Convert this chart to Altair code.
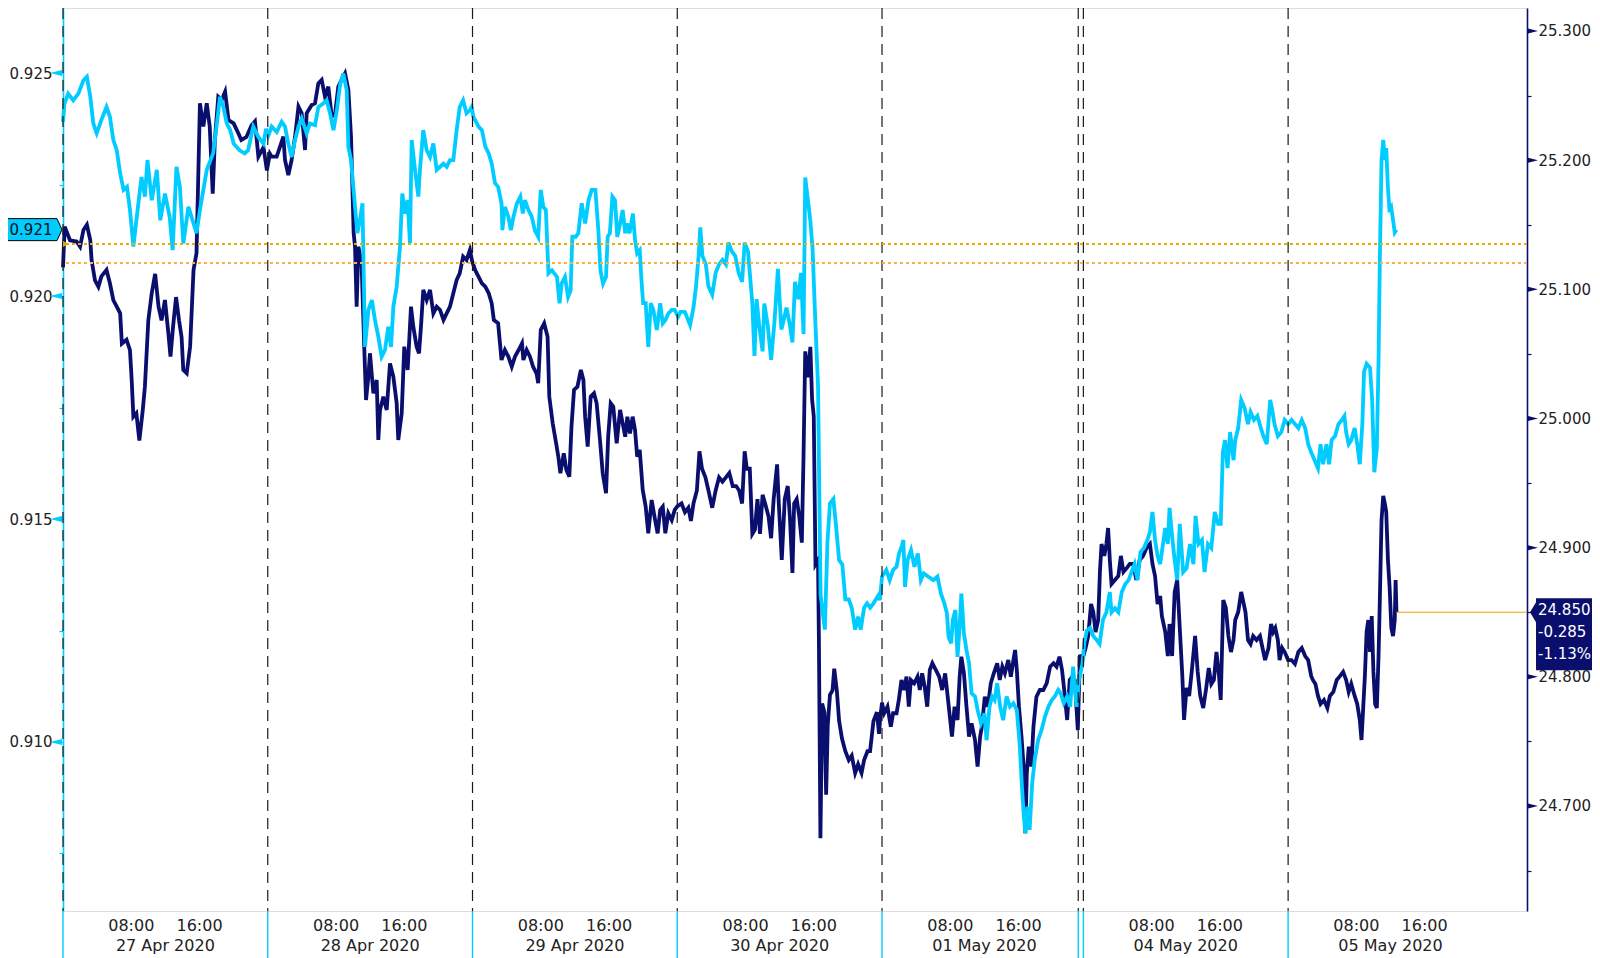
import altair as alt
import pandas as pd

# ---------------- data (hours on a trading clock from 27 Apr 2020 00:00; weekend compressed) ----------------
day_starts = [0, 24, 48, 72, 96, 119.6, 143.6]
day_labels = ["27 Apr 2020", "28 Apr 2020", "29 Apr 2020", "30 Apr 2020",
              "01 May 2020", "04 May 2020", "05 May 2020"]
session_breaks = [0, 24, 48, 72, 96, 119.0, 119.6, 143.6]
axis_end = 171.6

cyan_hours = [
    0.0, 0.15, 0.6, 1.2, 1.8, 2.4, 2.8, 3.2, 3.55, 3.95, 4.5, 5.1, 5.5, 5.9, 6.3, 6.7, 7.1, 7.5, 7.85, 8.25,
    8.6, 9.2, 9.6, 9.9, 10.4, 11.0, 11.4, 11.95, 12.5, 12.85, 13.3, 13.7, 14.1, 14.7, 15.3, 15.65, 16.05, 16.45,
    16.85, 17.6, 18.0, 18.4, 18.8, 19.2, 19.6, 20.0, 20.7, 21.3, 21.7, 22.3, 22.9, 23.5, 23.8, 24.07,
    24.46, 25.05, 25.63, 26.02, 26.41, 26.8, 27.2, 27.6, 27.98, 28.56, 28.95, 29.54, 29.93, 30.5, 30.9, 31.3,
    31.7, 32.1, 32.5, 32.86, 33.25, 33.45, 33.76, 34.03, 34.23, 34.5, 34.8, 35.1, 35.4, 35.8, 36.2, 36.57,
    36.96, 37.35, 37.74, 38.13, 38.45, 38.72, 39.11, 39.5, 39.77, 40.09, 40.4, 40.67, 40.87, 41.26, 41.65,
    41.84, 42.23, 42.63, 43.02, 43.41, 43.8, 44.2, 44.6, 44.97, 45.36, 45.75, 46.14, 46.5, 46.9, 47.3, 47.7,
    47.9, 48.1, 48.3, 48.7, 49.1, 49.5, 49.9, 50.25, 50.64, 51.0, 51.4, 51.5, 51.8, 52.2, 52.5, 52.8, 53.2,
    53.6, 53.9, 54.15, 54.55, 54.94, 55.3, 55.7, 56.0, 56.3, 56.6, 56.9, 57.3, 57.9, 58.2, 58.45, 58.84,
    59.2, 59.5, 59.7, 60.1, 60.4, 60.8, 61.2, 61.6, 61.97, 62.4, 62.75, 63.0, 63.3, 63.65, 63.84, 64.1, 64.4,
    64.7, 64.97, 65.3, 65.6, 65.9, 66.1, 66.4, 66.8, 67.05, 67.3, 67.6, 67.8, 68.0, 68.3, 68.6, 68.9, 69.2,
    69.6, 70.0, 70.3, 70.6, 70.95, 71.35, 71.7, 72.1, 72.4, 72.9, 73.5, 73.9, 74.2, 74.5, 74.7, 74.95, 75.35,
    75.65, 76.1, 76.5, 76.9, 77.3, 77.7, 78.0, 78.4, 78.8, 79.2, 79.6, 79.9, 80.3, 80.5, 80.8, 81.05, 81.3,
    81.6, 82.0, 82.2, 82.6, 83.0, 83.4, 83.8, 84.2, 84.45, 84.8, 85.2, 85.5, 85.8, 86.2, 86.5, 86.8, 87.0,
    87.3, 87.6, 87.85, 88.2, 88.5, 88.8, 89.05, 89.3, 89.6, 89.9, 90.3, 90.6, 90.97, 91.35, 91.7, 92.1,
    92.45, 92.85, 93.2, 93.5, 93.9, 94.25, 94.6, 95.0, 95.6, 95.75, 96.0, 96.5, 96.9, 97.3, 97.7, 98.0, 98.3,
    98.5, 98.7, 99.0, 99.4, 99.8, 100.2, 100.55, 100.9, 101.4, 102.0, 102.5, 102.9, 103.3, 103.6, 103.8,
    104.1, 104.3, 104.6, 104.85, 105.1, 105.3, 105.6, 105.9, 106.2, 106.5, 106.9, 107.2, 107.6, 108.0,
    108.25, 108.6, 108.9, 109.2, 109.5, 109.85, 110.2, 110.6, 111.0, 111.4, 111.8, 112.15, 112.4, 112.6,
    112.8, 113.05, 113.3, 113.6, 113.9, 114.3, 114.7, 115.1, 115.5, 115.9, 116.25, 116.65, 116.95, 117.3,
    117.7, 118.05, 118.4, 118.8, 119.1, 119.5, 119.7, 120.0, 120.4, 120.75, 121.15, 121.5, 121.9, 122.3,
    122.7, 122.9, 123.3, 123.7, 124.1, 124.5, 124.9, 125.25, 125.6, 125.95, 126.3, 126.7, 127.1, 127.4,
    127.7, 128.0, 128.3, 128.6, 128.8, 129.2, 129.5, 129.7, 130.0, 130.3, 130.6, 130.9, 131.3, 131.7, 132.1,
    132.5, 132.75, 133.1, 133.5, 133.8, 134.2, 134.6, 135.0, 135.4, 135.7, 135.95, 136.2, 136.5, 136.8,
    137.2, 137.4, 137.75, 138.1, 138.5, 138.9, 139.2, 139.6, 140.0, 140.4, 140.7, 141.1, 141.5, 141.7,
    142.0, 142.4, 142.8, 143.2, 143.6, 144.0, 144.4, 144.8, 145.2, 145.6, 145.95, 146.3, 146.7, 147.1,
    147.4, 147.7, 148.1, 148.4, 148.7, 149.1, 149.5, 149.9, 150.2, 150.4, 150.7, 151.0, 151.4, 151.7,
    152.0, 152.3, 152.5, 152.8, 153.2, 153.45, 153.7, 154.0, 154.2, 154.35, 154.55, 154.75, 154.95, 155.1,
    155.3, 155.5, 155.7, 155.9, 156.1, 156.3,
]
cyan_vals = [
    0.92390, 0.92430, 0.92454, 0.92439, 0.92454, 0.92484, 0.92492, 0.92447, 0.92387, 0.92365, 0.92395,
    0.92424, 0.92402, 0.92350, 0.92327, 0.92275, 0.92238, 0.92245, 0.92193, 0.92111, 0.92170, 0.92267,
    0.92223, 0.92305, 0.92215, 0.92283, 0.92170, 0.92230, 0.92178, 0.92103, 0.92290, 0.92245, 0.92118,
    0.92200, 0.92163, 0.92141, 0.92193, 0.92238, 0.92283, 0.92320, 0.92380, 0.92447, 0.92424, 0.92387,
    0.92372, 0.92342, 0.92327, 0.92320, 0.92327, 0.92380, 0.92357, 0.92342, 0.92375, 0.92360,
    0.92380, 0.92368, 0.92391, 0.92380, 0.92342, 0.92312, 0.92350, 0.92380, 0.92398, 0.92365, 0.92387,
    0.92383, 0.92424, 0.92432, 0.92439, 0.92410, 0.92372, 0.92417, 0.92477, 0.92499, 0.92462, 0.92335,
    0.92305, 0.92245, 0.92200, 0.92141, 0.92170, 0.92208, 0.91886, 0.91969, 0.91991, 0.91946, 0.91909,
    0.91864, 0.91879, 0.91931, 0.91886, 0.91976, 0.92021, 0.92111, 0.92230, 0.92185, 0.92215, 0.92118,
    0.92350, 0.92283, 0.92223, 0.92283, 0.92372, 0.92327, 0.92312, 0.92342, 0.92283, 0.92290, 0.92297,
    0.92290, 0.92305, 0.92305, 0.92372, 0.92424, 0.92439, 0.92410, 0.92417, 0.92424, 0.92402, 0.92395,
    0.92380, 0.92372, 0.92335, 0.92320, 0.92297, 0.92253, 0.92245, 0.92208, 0.92148, 0.92200, 0.92178,
    0.92148, 0.92178, 0.92208, 0.92223, 0.92185, 0.92215, 0.92193, 0.92178, 0.92148, 0.92133, 0.92238,
    0.92200, 0.92193, 0.92051, 0.92058, 0.92043, 0.91984, 0.92028, 0.92043, 0.91998, 0.92013, 0.92133,
    0.92133, 0.92141, 0.92208, 0.92163, 0.92215, 0.92238, 0.92238, 0.92148, 0.92058, 0.92028, 0.92043,
    0.92133, 0.92141, 0.92223, 0.92215, 0.92133, 0.92163, 0.92193, 0.92141, 0.92163, 0.92141, 0.92185,
    0.92126, 0.92096, 0.92103, 0.92036, 0.91984, 0.91984, 0.91886, 0.91984, 0.91969, 0.91924, 0.91984,
    0.91939, 0.91946, 0.91961, 0.91969, 0.91969, 0.91954, 0.91965, 0.91964, 0.91935, 0.91974, 0.92022,
    0.92090, 0.92154, 0.92090, 0.92071, 0.92022, 0.92003, 0.92052, 0.92071, 0.92081, 0.92071, 0.92120,
    0.92100, 0.92090, 0.92052, 0.92032, 0.92120, 0.92100, 0.92052, 0.91983, 0.91866, 0.91993, 0.91935,
    0.91876, 0.91983, 0.91935, 0.91857, 0.91944, 0.92061, 0.91925, 0.91944, 0.91974, 0.91935, 0.91896,
    0.92032, 0.91993, 0.92052, 0.91915, 0.92266, 0.92217, 0.92168, 0.92110, 0.91935, 0.91798, 0.91330,
    0.91291, 0.91252, 0.91447, 0.91535, 0.91545, 0.91486, 0.91408, 0.91398, 0.91320, 0.91320, 0.91301,
    0.91252, 0.91281, 0.91252, 0.91301, 0.91311, 0.91301, 0.91311, 0.91330, 0.91318, 0.91371, 0.91386,
    0.91363, 0.91386, 0.91393, 0.91423, 0.91438, 0.91453, 0.91348, 0.91408, 0.91430, 0.91393, 0.91423,
    0.91363, 0.91378, 0.91371, 0.91363, 0.91371, 0.91333, 0.91311, 0.91289, 0.91236, 0.91221, 0.91274,
    0.91296, 0.91191, 0.91259, 0.91333, 0.91244, 0.91206, 0.91176, 0.91109, 0.91102, 0.91072, 0.91042,
    0.91064, 0.91004, 0.91079, 0.91102, 0.91094, 0.91132, 0.91079, 0.91049, 0.91102, 0.91079, 0.91087,
    0.91072, 0.90990, 0.90900, 0.90840, 0.90795, 0.90855, 0.90803, 0.90907, 0.90960, 0.91004, 0.91027,
    0.91057, 0.91079, 0.91094, 0.91102, 0.91117, 0.91109, 0.91087, 0.91102, 0.91079, 0.91169, 0.91079,
    0.91140, 0.91175, 0.91221, 0.91250, 0.91256, 0.91238, 0.91229, 0.91220, 0.91274, 0.91291, 0.91336,
    0.91291, 0.91300, 0.91291, 0.91336, 0.91354, 0.91363, 0.91381, 0.91399, 0.91363, 0.91426, 0.91435,
    0.91453, 0.91471, 0.91516, 0.91453, 0.91417, 0.91399, 0.91426, 0.91480, 0.91444, 0.91525, 0.91462,
    0.91408, 0.91363, 0.91489, 0.91381, 0.91390, 0.91444, 0.91399, 0.91507, 0.91444, 0.91453, 0.91381,
    0.91444, 0.91435, 0.91516, 0.91489, 0.91489, 0.91650, 0.91677, 0.91614, 0.91695, 0.91632, 0.91677,
    0.91704, 0.91767, 0.91749, 0.91713, 0.91740, 0.91722, 0.91731, 0.91704, 0.91686, 0.91668, 0.91767,
    0.91749, 0.91713, 0.91686, 0.91695, 0.91722, 0.91713, 0.91722, 0.91713, 0.91704, 0.91722, 0.91704,
    0.91668, 0.91650, 0.91632, 0.91614, 0.91668, 0.91623, 0.91668, 0.91623, 0.91677, 0.91686, 0.91713,
    0.91722, 0.91731, 0.91695, 0.91668, 0.91677, 0.91704, 0.91668, 0.91623, 0.91713, 0.91830, 0.91848,
    0.91839, 0.91767, 0.91605, 0.91659, 0.91857, 0.92081, 0.92305, 0.92350, 0.92305, 0.92332, 0.92242,
    0.92188, 0.92197, 0.92170, 0.92143, 0.92149,
]

navy_hours = [
    0.0, 0.2, 0.82, 1.6, 2.0, 2.4, 2.8, 3.2, 3.35, 3.75, 4.15, 4.5, 5.1, 5.5, 5.9, 6.3, 6.7, 6.9, 7.45, 7.85,
    8.05, 8.25, 8.6, 8.95, 9.35, 9.6, 10.0, 10.4, 10.8, 11.2, 11.55, 11.95, 12.35, 12.6, 12.9, 13.25, 13.6,
    13.9, 14.1, 14.5, 14.9, 15.3, 15.65, 16.05, 16.45, 16.85, 17.2, 17.55, 17.8, 18.2, 18.6, 19.0, 19.4,
    20.0, 20.55, 20.9, 21.5, 22.1, 22.5, 22.9, 23.5, 23.9, 24.25, 24.46, 25.05, 25.44, 25.83, 26.02, 26.41,
    26.8, 27.2, 27.6, 27.98, 28.37, 28.56, 29.15, 29.54, 29.93, 30.32, 30.71, 31.1, 31.5, 31.9, 32.27,
    32.66, 33.06, 33.45, 33.76, 33.92, 34.07, 34.23, 34.42, 34.62, 35.0, 35.32, 35.52, 35.79, 35.98, 36.38,
    36.77, 36.96, 37.16, 37.55, 37.94, 38.33, 38.72, 39.11, 39.3, 39.7, 40.0, 40.4, 40.79, 41.06, 41.45,
    41.73, 41.96, 42.23, 42.63, 43.02, 43.41, 43.8, 44.2, 44.6, 44.97, 45.36, 45.75, 46.14, 46.5, 46.9,
    47.3, 47.7, 47.95, 48.3, 48.7, 49.1, 49.5, 49.9, 50.25, 50.5, 51.0, 51.4, 51.8, 52.2, 52.6, 52.98,
    53.4, 53.8, 53.96, 54.35, 54.74, 55.1, 55.5, 55.7, 56.0, 56.4, 56.8, 57.0, 57.4, 57.8, 58.06, 58.3,
    58.7, 59.0, 59.35, 59.6, 59.9, 60.3, 60.7, 61.0, 61.2, 61.5, 61.85, 62.24, 62.55, 62.94, 63.26, 63.65,
    63.9, 64.2, 64.5, 64.9, 65.3, 65.6, 65.9, 66.15, 66.46, 66.77, 67.05, 67.3, 67.6, 67.95, 68.3, 68.6,
    69.0, 69.4, 69.7, 70.0, 70.3, 70.6, 70.95, 71.35, 71.7, 72.0, 72.5, 72.9, 73.3, 73.6, 73.9, 74.3, 74.6,
    74.9, 75.3, 75.65, 76.1, 76.5, 76.9, 77.3, 77.7, 78.1, 78.5, 78.9, 79.25, 79.6, 79.9, 80.15, 80.5,
    80.8, 81.1, 81.4, 81.7, 82.0, 82.3, 82.7, 83.0, 83.3, 83.7, 83.9, 84.25, 84.6, 84.95, 85.2, 85.5, 85.7,
    86.0, 86.3, 86.6, 86.8, 87.0, 87.3, 87.6, 87.8, 88.0, 88.2, 88.5, 88.6, 88.78, 88.98, 89.25, 89.45,
    89.64, 89.9, 90.2, 90.4, 90.7, 90.97, 91.3, 91.7, 92.1, 92.45, 92.85, 93.2, 93.6, 93.9, 94.3, 94.6,
    95.0, 95.4, 95.65, 95.8, 96.0, 96.25, 96.64, 97.03, 97.3, 97.7, 97.97, 98.28, 98.6, 98.87, 99.14,
    99.38, 99.77, 100.16, 100.43, 100.7, 101.0, 101.3, 101.6, 101.9, 102.3, 102.7, 103.05, 103.4, 103.7,
    103.95, 104.2, 104.5, 104.85, 105.1, 105.3, 105.6, 105.9, 106.2, 106.5, 106.9, 107.2, 107.5, 107.7,
    108.05, 108.4, 108.75, 109.1, 109.5, 109.8, 110.1, 110.4, 110.8, 111.1, 111.4, 111.6, 111.8, 112.05,
    112.35, 112.6, 112.8, 112.97, 113.2, 113.5, 113.75, 114.1, 114.5, 114.9, 115.3, 115.7, 116.1, 116.45,
    116.8, 117.1, 117.4, 117.7, 118.0, 118.3, 118.6, 118.95, 119.2, 119.47, 119.86, 120.17, 120.5, 120.76,
    121.03, 121.34, 121.54, 121.73, 122.05, 122.3, 122.5, 122.7, 122.9, 123.3, 123.7, 124.0, 124.3, 124.7,
    125.05, 125.45, 125.8, 126.2, 126.6, 127.0, 127.4, 127.7, 128.0, 128.3, 128.6, 128.8, 129.2, 129.5,
    129.7, 130.0, 130.3, 130.6, 130.9, 131.2, 131.4, 131.7, 132.0, 132.3, 132.7, 133.0, 133.3, 133.65,
    134.0, 134.3, 134.6, 134.9, 135.2, 135.5, 135.7, 136.0, 136.3, 136.6, 136.9, 137.2, 137.4, 137.75,
    138.1, 138.3, 138.6, 138.9, 139.2, 139.5, 139.9, 140.3, 140.6, 140.9, 141.3, 141.6, 141.85, 142.1,
    142.4, 142.6, 142.9, 143.2, 143.6, 144.0, 144.4, 144.8, 145.2, 145.6, 145.95, 146.3, 146.5, 146.8,
    147.1, 147.4, 147.8, 148.2, 148.5, 148.9, 149.3, 149.7, 150.05, 150.4, 150.7, 151.0, 151.4, 151.7,
    152.0, 152.2, 152.4, 152.6, 152.8, 153.0, 153.2, 153.4, 153.6, 153.8, 154.0, 154.2, 154.35, 154.55,
    154.75, 154.95, 155.1, 155.3, 155.5, 155.7, 155.9, 156.1, 156.2, 156.3,
]
navy_vals = [
    25.117, 25.1485, 25.138, 25.137, 25.133, 25.146, 25.150, 25.138, 25.1227, 25.107, 25.102, 25.110,
    25.115, 25.1047, 25.0917, 25.0866, 25.0814, 25.058, 25.061, 25.053, 25.030, 25.0014, 25.004, 24.983,
    25.0066, 25.0246, 25.076, 25.097, 25.112, 25.0866, 25.076, 25.0917, 25.066, 25.048, 25.071, 25.094,
    25.076, 25.063, 25.0376, 25.035, 25.0556, 25.115, 25.128, 25.244, 25.226, 25.244, 25.226, 25.174,
    25.2156, 25.249, 25.2466, 25.253, 25.231, 25.2285, 25.2208, 25.2156, 25.218, 25.227, 25.230, 25.2027,
    25.210, 25.192, 25.205, 25.2027, 25.2027, 25.2104, 25.2182, 25.2001, 25.1885, 25.2001, 25.2182,
    25.2414, 25.2363, 25.2079, 25.2363, 25.2427, 25.244, 25.2595, 25.2621, 25.2492, 25.2569, 25.2337,
    25.2363, 25.2569, 25.2621, 25.2672, 25.2543, 25.2182, 25.1795, 25.1434, 25.133, 25.0866, 25.133,
    25.1201, 25.053, 25.0143, 25.0324, 25.0505, 25.0195, 25.0298, 24.9834, 25.0066, 25.0169, 25.0066,
    25.0427, 25.0324, 25.0118, 24.9834, 25.004, 25.0556, 25.0376, 25.0866, 25.0711, 25.0556, 25.0505,
    25.0711, 25.0995, 25.0917, 25.0995, 25.0814, 25.0866, 25.084, 25.0763, 25.0814, 25.0866, 25.0969,
    25.1072, 25.1124, 25.1253, 25.1227, 25.1305, 25.122, 25.115, 25.1098, 25.1047, 25.102, 25.0969,
    25.0892, 25.0763, 25.0737, 25.0453, 25.053, 25.0479, 25.0401, 25.0479, 25.053, 25.0582, 25.0453,
    25.053, 25.0479, 25.0401, 25.035, 25.0273, 25.0685, 25.0737, 25.0633, 25.0169, 24.9963, 24.9808,
    24.9704, 24.9576, 24.973, 24.9601, 24.955, 24.9937, 25.0221, 25.0246, 25.0376, 25.0298, 25.0014,
    24.9782, 25.0169, 25.0195, 25.0118, 24.9834, 24.9576, 24.9421, 24.9859, 25.0118, 25.0091, 24.9808,
    25.0066, 24.9963, 24.9859, 25.0014, 24.9885, 25.0014, 24.9911, 24.9704, 24.9756, 24.9447, 24.9317,
    24.9111, 24.9369, 24.9214, 24.9111, 24.9292, 24.9317, 24.9111, 24.9266, 24.9214, 24.9292, 24.932,
    24.9342, 24.9275, 24.9309, 24.9207, 24.9342, 24.9443, 24.9746, 24.9611, 24.9544, 24.9443, 24.9309,
    24.9443, 24.9544, 24.9511, 24.9544, 24.9578, 24.9477, 24.9477, 24.9443, 24.9342, 24.9746, 24.9611,
    24.9611, 24.9107, 24.914, 24.9376, 24.9107, 24.9409, 24.9342, 24.9241, 24.9073, 24.9376, 24.9645,
    24.9342, 24.8905, 24.9376, 24.9477, 24.9241, 24.8804, 24.9342, 24.9376, 24.9241, 24.9039, 24.9712,
    25.052, 25.0318, 25.0554, 25.015, 25.0016, 24.8871, 24.8905, 24.8298, 24.675, 24.7794, 24.7726,
    24.7087, 24.7626, 24.7861, 24.7895, 24.8063, 24.7895, 24.7659, 24.7524, 24.7424, 24.7356, 24.739,
    24.7256, 24.7323, 24.7256, 24.7356, 24.7424, 24.7424, 24.7659, 24.7726, 24.7558, 24.7692, 24.780,
    24.7718, 24.7769, 24.7614, 24.7718, 24.7718, 24.7821, 24.7976, 24.7898, 24.8001, 24.7769, 24.7976,
    24.795, 24.8001, 24.7898, 24.8027, 24.7924, 24.7769, 24.8053, 24.8105, 24.8053, 24.8001, 24.7898,
    24.8027, 24.7846, 24.7692, 24.7537, 24.7769, 24.7666, 24.8001, 24.8156, 24.8027, 24.7769, 24.7537,
    24.764, 24.7511, 24.7305, 24.7537, 24.7614, 24.7846, 24.7769, 24.795, 24.8027, 24.8105, 24.7976,
    24.8079, 24.8027, 24.813, 24.8001, 24.813, 24.8208, 24.8053, 24.7769, 24.7537, 24.7305, 24.6789,
    24.7253, 24.7459, 24.7305, 24.7614, 24.7846, 24.7898, 24.7898, 24.795, 24.8079, 24.8105, 24.8079,
    24.8156, 24.8053, 24.7872, 24.7666, 24.7976, 24.8001, 24.7976, 24.7588, 24.817, 24.813, 24.8223,
    24.8316, 24.8564, 24.8502, 24.8347, 24.844, 24.8812, 24.9028, 24.8936, 24.9028, 24.9152, 24.8905,
    24.8719, 24.875, 24.8781, 24.8936, 24.8812, 24.8843, 24.8874, 24.8874, 24.875, 24.8905, 24.8936,
    24.8997, 24.9028, 24.8874, 24.8781, 24.8564, 24.8626, 24.8471, 24.8347, 24.8161, 24.8409, 24.8161,
    24.8657, 24.875, 24.8378, 24.8007, 24.7666, 24.7914, 24.7852, 24.8038, 24.8316, 24.8038, 24.7852,
    24.7759, 24.7914, 24.8068, 24.7945, 24.7976, 24.8192, 24.8007, 24.7821, 24.8595, 24.8533, 24.8316,
    24.8192, 24.8285, 24.844, 24.8502, 24.8657, 24.8595, 24.8502, 24.8285, 24.8254, 24.8316, 24.8285,
    24.8316, 24.8223, 24.813, 24.8223, 24.8409, 24.8347, 24.8378, 24.8285, 24.813, 24.8223, 24.8192,
    24.813, 24.813, 24.81, 24.8192, 24.8223, 24.8161, 24.813, 24.8007, 24.7976, 24.7945, 24.7852, 24.779,
    24.7821, 24.7759, 24.7852, 24.7883, 24.7976, 24.8007, 24.8038, 24.7976, 24.7883, 24.7945, 24.7852,
    24.779, 24.7666, 24.7511, 24.7759, 24.8007, 24.8347, 24.844, 24.8192, 24.8471, 24.8038, 24.779,
    24.7759, 24.8161, 24.8595, 24.9214, 24.94, 24.9338, 24.9276, 24.8905, 24.8688, 24.8378, 24.8316,
    24.844, 24.875, 24.850,
]

navy_prev_close = 25.135
cyan_prev_close = 0.92074

left_major = [0.910, 0.915, 0.920, 0.925]
left_ticks = [0.9075, 0.910, 0.9125, 0.915, 0.9175, 0.920, 0.9225, 0.925]
right_major = [24.7, 24.8, 24.9, 25.0, 25.1, 25.2, 25.3]
right_ticks = [24.65, 24.7, 24.75, 24.8, 24.85, 24.9, 24.95, 25.0, 25.05, 25.1, 25.15, 25.2, 25.25, 25.3]

# ---------------- styling ----------------
CYAN = "#00CCFF"
NAVY = "#0A0F6E"
TXT = "#222222"
FONT = "DejaVu Sans"
W, H = 1464, 903
PAD_L, PAD_R, PAD_B = 55, 65, 47

xs = alt.Scale(domain=[0, axis_end], nice=False, zero=False)
yl = alt.Scale(domain=[0.90621, 0.92646], nice=False, zero=False)
yr = alt.Scale(domain=[24.6187, 25.3178], nice=False, zero=False)

tick_hours = []
for s in day_starts:
    for k in range(1, 6):
        tick_hours.append(round(s + 4 * k, 2))
tick_hours += [round(143.6 + 24, 2), axis_end]

time_pos, time_txt, date_pos = [], [], []
for s in day_starts:
    time_pos += [s + 8, s + 16]
    time_txt += ["08:00", "16:00"]
    date_pos.append(s + 12)

cyan_df = pd.DataFrame({"h": cyan_hours, "v": cyan_vals})
navy_df = pd.DataFrame({"h": navy_hours, "v": navy_vals})
breaks_df = pd.DataFrame({"h": session_breaks})
time_df = pd.DataFrame({"h": time_pos, "t": time_txt})
date_df = pd.DataFrame({"h": date_pos, "t": day_labels})

x_axis = alt.Axis(values=tick_hours, labels=False, ticks=True, tickSize=4, tickColor=CYAN,
                  tickWidth=1.2, domainColor=CYAN, domainWidth=1.6, grid=False, title=None)

def X(axis=None):
    return alt.X("h:Q", scale=xs, axis=axis)

# vertical dashed session separators
seps = alt.Chart(breaks_df).mark_rule(color="#1a1a1a", strokeWidth=1.2, strokeDash=[11, 7]).encode(x=X())

# long boundary ticks under the time axis
long_ticks = alt.Chart(breaks_df).mark_rule(color=CYAN, strokeWidth=1.4).encode(
    x=X(), y=alt.value(H), y2=alt.value(H + PAD_B))

navy_line = alt.Chart(navy_df).mark_line(color=NAVY, strokeWidth=3.8, interpolate="linear").encode(
    x=X(x_axis),
    y=alt.Y("v:Q", scale=yr, axis=alt.Axis(
        orient="right", values=right_ticks,
        labelExpr="abs(datum.value*10 - round(datum.value*10)) < 0.01 ? format(datum.value, '.3f') : ''",
        tickSize=4, tickColor=NAVY, tickWidth=1.2, domainColor=NAVY, domainWidth=1.6,
        labelColor=TXT, labelFont=FONT, labelFontSize=15, labelPadding=7, grid=False, title=None)),
)

cyan_line = alt.Chart(cyan_df).mark_line(color=CYAN, strokeWidth=3.8, interpolate="linear").encode(
    x=X(),
    y=alt.Y("v:Q", scale=yl, axis=alt.Axis(
        orient="left", values=left_ticks,
        labelExpr="abs(datum.value*200 - round(datum.value*200)) < 0.01 ? format(datum.value, '.3f') : ''",
        tickSize=4, tickColor=CYAN, tickWidth=1.2, domainColor=CYAN, domainWidth=1.6,
        labelColor=TXT, labelFont=FONT, labelFontSize=15, labelPadding=7, grid=False, title=None)),
)

prev_navy = alt.Chart(pd.DataFrame({"v": [navy_prev_close]})).mark_rule(
    color="#E6B000", strokeWidth=2, strokeDash=[3, 3]).encode(y=alt.Y("v:Q", scale=yr, axis=None))
prev_cyan = alt.Chart(pd.DataFrame({"v": [cyan_prev_close]})).mark_rule(
    color="#F7B04A", strokeWidth=2, strokeDash=[3, 3]).encode(y=alt.Y("v:Q", scale=yl, axis=None))
prev_mark = alt.Chart(pd.DataFrame({"v": [navy_prev_close]})).mark_point(
    shape="M -1 -1 L 1 0 L -1 1 Z", filled=True, size=36, color="#D9A800", opacity=1).encode(
    x=alt.value(3), y=alt.Y("v:Q", scale=yr, axis=None))

last_h = navy_hours[-1]
last_navy = navy_vals[-1]
last_cyan = cyan_vals[-1]
last_df = pd.DataFrame({"h": [last_h], "v": [last_navy]})
last_rule = alt.Chart(last_df).mark_rule(color="#F0A000", strokeWidth=1).encode(
    x=X(), x2=alt.value(W), y=alt.Y("v:Q", scale=yr, axis=None))

# axis arrow markers
lmaj = alt.Chart(pd.DataFrame({"v": left_major})).mark_point(
    shape="M 1 -0.5 L -1 0 L 1 0.5 Z", filled=True, size=144, color=CYAN, opacity=1).encode(
    x=alt.value(-7), y=alt.Y("v:Q", scale=yl, axis=None))
rmaj = alt.Chart(pd.DataFrame({"v": right_major})).mark_point(
    shape="M -1 -0.5 L 1 0 L -1 0.5 Z", filled=True, size=121, color=NAVY, opacity=1).encode(
    x=alt.value(W + 5.5), y=alt.Y("v:Q", scale=yr, axis=None))

# time-axis labels
time_lbl = alt.Chart(time_df).mark_text(font=FONT, fontSize=16, color=TXT, baseline="middle").encode(
    x=X(), y=alt.value(918), text="t:N")
date_lbl = alt.Chart(date_df).mark_text(font=FONT, fontSize=16, color=TXT, baseline="middle").encode(
    x=X(), y=alt.value(938), text="t:N")

# last value tag on the left axis (cyan)
cyan_tag_df = pd.DataFrame({"v": [last_cyan], "t": [f"{last_cyan:.3f}"]})
cyan_box = alt.Chart(cyan_tag_df).mark_point(
    shape="M -1 -0.355 L 0.839 -0.355 L 1 0 L 0.839 0.355 L -1 0.355 Z",
    filled=True, size=3844, fill=CYAN, stroke="#000000", strokeWidth=1, opacity=1).encode(
    x=alt.value(-32), y=alt.Y("v:Q", scale=yl, axis=None))
cyan_txt = alt.Chart(cyan_tag_df).mark_text(font=FONT, fontSize=15, color="#111111",
                                            baseline="middle", align="center").encode(
    x=alt.value(-32), y=alt.Y("v:Q", scale=yl, axis=None), text="t:N")

# last value tag on the right axis (navy)
chg = last_navy - navy_prev_close
pct = chg / navy_prev_close * 100
navy_tag_df = pd.DataFrame({"v": [last_navy],
                            "t": [f"{last_navy:.3f}\n{chg:.3f}\n{pct:.2f}%"]})
navy_box = alt.Chart(navy_tag_df).mark_point(
    shape="M -0.694 -1 L 0.861 -1 L 0.861 1 L -0.694 1 L -0.694 -0.333 L -0.861 -0.611 L -0.694 -0.889 Z",
    filled=True, size=5184, fill=NAVY, opacity=1, yOffset=22).encode(
    x=alt.value(W + 34), y=alt.Y("v:Q", scale=yr, axis=None))
navy_txt = alt.Chart(navy_tag_df).mark_text(font=FONT, fontSize=15, color="#FFFFFF", align="left",
                                            baseline="top", lineBreak="\n", lineHeight=22, dy=-9).encode(
    x=alt.value(W + 11), y=alt.Y("v:Q", scale=yr, axis=None), text="t:N")

chart = alt.layer(
    navy_line, cyan_line, seps, long_ticks, prev_navy, prev_cyan, prev_mark, last_rule,
    lmaj, rmaj, time_lbl, date_lbl, cyan_box, cyan_txt, navy_box, navy_txt,
).resolve_scale(y="independent").properties(
    width=W, height=H,
    autosize=alt.AutoSizeParams(type="none"),
    padding={"left": PAD_L, "top": 0, "right": PAD_R, "bottom": PAD_B},
).configure_view(stroke="transparent").configure(background="white")

chart.save("out.html", embed_options={"renderer": "svg", "actions": False})
